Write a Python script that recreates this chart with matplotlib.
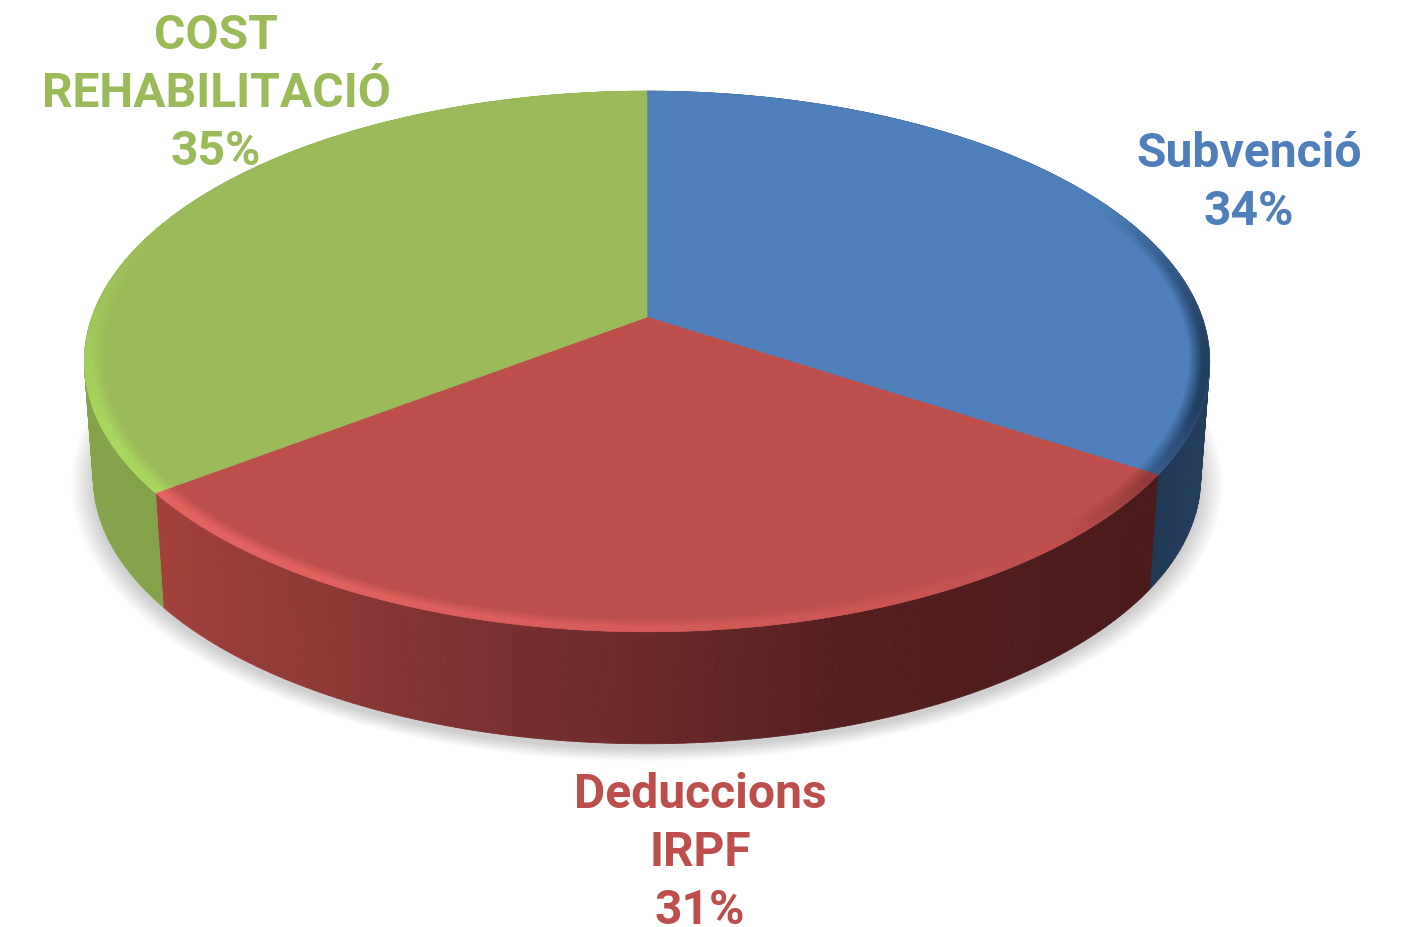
import numpy as np
import matplotlib
matplotlib.use('Agg')
from matplotlib import pyplot as plt
from matplotlib.collections import PolyCollection
from matplotlib.colors import to_rgb

# slices clockwise from 12 o'clock
labels = ['Subvenció\n34%', 'Deduccions\nIRPF\n31%', 'COST\nREHABILITACIÓ\n35%']
values = [34.2, 30.5, 35.3]
colors = ['#4e7fba', '#bc4e4c', '#9bba59']
label_x = [1249, 700, 216]
label_y = [183, 853, 94]

wall_x = [[1140, 1215], [150, 300, 450, 650, 850, 1160], [80, 170]]
wall_colors = [['#1f3550', '#24405f'],
               ['#a3403c', '#913a37', '#7d3230', '#6a2a2a', '#541f1f', '#4a1b1b'],
               ['#85a34b', '#84a24a']]

# projection of the tilted disc
cx, cy = 647, 317
half_w, half_h, persp = 555, 263, 0.1645
depth = 117
low_scale = 0.984


def project(t, r=1.0, dy=0.0):
    w = 1 / (1 + persp * r * np.cos(t))
    return cx + half_w * r * np.sin(t) * w, cy + half_h * r * -np.cos(t) * w + dy


def lower_rim(t, grow=0.0, shift=0.0):
    x, y = project(t)
    return (cx + (x - cx) * (low_scale + grow / half_w),
            cy + (y - cy) * (low_scale + grow / half_w) + depth + shift)


def wall_color(i, x):
    rgb = np.array([to_rgb(c) for c in wall_colors[i]])
    return [np.interp(x, wall_x[i], rgb[:, k]) for k in range(3)]


def edge_tint(base, t, amount):
    # light from the lower left, dark on the right, nothing at the back
    weight = np.clip((0.45 - np.cos(t)) / 0.8, 0, 1)
    v = np.cos(t - np.radians(228)) * weight
    base = np.array(to_rgb(base))
    if v > 0:
        if base[1] > 0.6:
            target = np.array([0.70, 0.93, 0.40])
            mix = 0.6 * v
        else:
            target = np.array([1.0, 0.45, 0.43])
            mix = 0.6 * v
    else:
        target = np.array(to_rgb('#152a45')) if base[2] > 0.6 else np.array(to_rgb('#4a1b1b'))
        mix = min(1.0, -v * 1.6)
    return base + (target - base) * mix * amount


fig = plt.figure(figsize=(14.06, 9.27), dpi=100)
ax = fig.add_axes([0, 0, 1, 1])
ax.set_xlim(0, 1406)
ax.set_ylim(927, 0)
ax.axis('off')

edges = np.radians(np.cumsum([0] + values) / 100 * 360)

# soft shadow under the disc
ts = np.linspace(0, 2 * np.pi, 360)
for grow in np.linspace(22, 0, 24):
    sx, sy = lower_rim(ts, grow, 5)
    ax.fill(sx, sy, color='#606060', alpha=0.010, lw=0, zorder=1)

# side wall
for i in range(3):
    ts = np.linspace(edges[i], edges[i + 1], 130)
    quads = []
    cols = []
    for a, b in zip(ts[:-1], ts[1:]):
        x0, y0 = project(a)
        x1, y1 = project(b)
        x2, y2 = lower_rim(b)
        x3, y3 = lower_rim(a)
        quads.append([(x0, y0), (x1, y1), (x2, y2), (x3, y3)])
        cols.append(wall_color(i, (x0 + x1) / 2))
    ax.add_collection(PolyCollection(quads, facecolors=cols, edgecolors='face', linewidths=0.6, zorder=2))

# top face
for i in range(3):
    ts = np.linspace(edges[i], edges[i + 1], 200)
    x, y = project(ts)
    ax.fill(np.r_[cx, x], np.r_[cy, y], color=colors[i], lw=0.5, zorder=3)

# bevel along the rim of the top face
radii = np.linspace(0.962, 1.0, 11)
for i in range(3):
    ts = np.linspace(edges[i], edges[i + 1], 160)
    quads = []
    cols = []
    for r0, r1 in zip(radii[:-1], radii[1:]):
        amount = min(1.0, (r0 - radii[0]) / 0.024)
        for a, b in zip(ts[:-1], ts[1:]):
            xa, ya = project(a, r0)
            xb, yb = project(b, r0)
            xc, yc = project(b, r1)
            xd, yd = project(a, r1)
            quads.append([(xa, ya), (xb, yb), (xc, yc), (xd, yd)])
            cols.append(np.clip(edge_tint(colors[i], (a + b) / 2, amount), 0, 1))
    ax.add_collection(PolyCollection(quads, facecolors=cols, edgecolors='face', linewidths=0.3, zorder=4))

for i in range(3):
    ax.text(label_x[i], label_y[i], labels[i], color=colors[i], family='Roboto', weight='bold',
            fontsize=34.6, ha='center', va='center', ma='center', linespacing=1.34, zorder=6)

plt.savefig('out.png', dpi=100)
